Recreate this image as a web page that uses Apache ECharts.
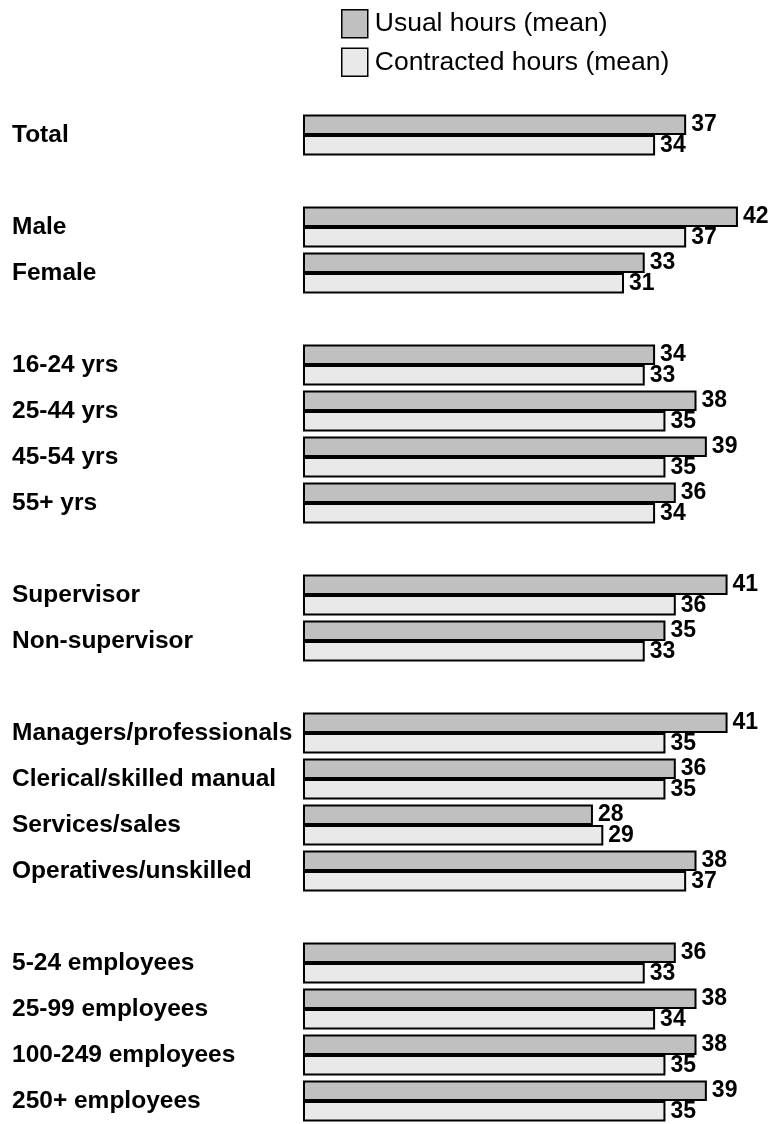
<!DOCTYPE html>
<html lang="en">

<head>
    <meta charset="UTF-8">
    <title>Usual and contracted hours</title>
    <script src="https://cdn.jsdelivr.net/npm/echarts@6/dist/echarts.min.js"></script>
</head>
<style>
    * {
        margin: 0;
        padding: 0;
    }

    body {
        background: #ffffff;
    }

    .box {
        width: 774px;
        height: 1124px;
    }
</style>

<body>
    <div class="box" id="myChart"></div>
    <script>
        // 分组：每组之间空一行
        const groupSizes = [1, 2, 4, 2, 4, 4];
        const categories = [
            'Total',
            'Male', 'Female',
            '16-24 yrs', '25-44 yrs', '45-54 yrs', '55+ yrs',
            'Supervisor', 'Non-supervisor',
            'Managers/professionals', 'Clerical/skilled manual', 'Services/sales', 'Operatives/unskilled',
            '5-24 employees', '25-99 employees', '100-249 employees', '250+ employees'
        ];
        const usualHours = [37, 42, 33, 34, 38, 39, 36, 41, 35, 41, 36, 28, 38, 36, 38, 38, 39];
        const contractedHours = [34, 37, 31, 33, 35, 35, 34, 36, 33, 35, 35, 29, 37, 33, 34, 35, 35];
        const seriesNames = ['Usual hours (mean)', 'Contracted hours (mean)'];

        // 插入空行
        let rowNames = [], usualRows = [], contractedRows = [];
        let k = 0;
        groupSizes.forEach(function (n, g) {
            if (g > 0) {
                rowNames.push('');
                usualRows.push('-');
                contractedRows.push('-');
            }
            for (let i = 0; i < n; i++) {
                rowNames.push(categories[k]);
                usualRows.push(usualHours[k]);
                contractedRows.push(contractedHours[k]);
                k++;
            }
        });

        let myEchart = echarts.init(document.getElementById('myChart'));
        const labelStyle = {
            show: true,
            position: 'right',
            distance: 5,
            color: '#000000',
            fontFamily: 'Liberation Sans',
            fontWeight: 'bold',
            fontSize: 23
        };
        const option = {
            backgroundColor: '#ffffff',
            animation: false,
            legend: {
                orient: 'vertical',
                left: 336,
                top: 4,
                itemWidth: 26,
                itemHeight: 28,
                itemGap: 9,
                icon: 'rect',
                itemStyle: {
                    borderColor: '#000000',
                    borderWidth: 1.5
                },
                textStyle: {
                    color: '#000000',
                    fontFamily: 'Liberation Sans',
                    fontSize: 26.5,
                    padding: [0, 0, 0, 2]
                },
                data: seriesNames
            },
            grid: {
                left: 303,
                right: 5,
                top: 112,
                height: 1013
            },
            xAxis: {
                type: 'value',
                min: 0,
                max: 45,
                show: false
            },
            yAxis: {
                type: 'category',
                inverse: true,
                axisLine: { show: false },
                axisTick: { show: false },
                axisLabel: {
                    align: 'left',
                    margin: 291,
                    interval: 0,
                    color: '#000000',
                    fontFamily: 'Liberation Sans',
                    fontWeight: 'bold',
                    fontSize: 24.5,
                    padding: [8, 0, 0, 0]
                },
                data: rowNames
            },
            series: [{
                    name: seriesNames[0],
                    type: 'bar',
                    barWidth: 20.5,
                    barGap: '0%',
                    itemStyle: {
                        color: '#c0c0c0',
                        borderColor: '#000000',
                        borderWidth: 2
                    },
                    label: labelStyle,
                    data: usualRows
                },
                {
                    name: seriesNames[1],
                    type: 'bar',
                    barWidth: 20.5,
                    itemStyle: {
                        color: '#e9e9e9',
                        borderColor: '#000000',
                        borderWidth: 2
                    },
                    label: labelStyle,
                    data: contractedRows
                }
            ]
        };
        myEchart.setOption(option, true);
    </script>
</body>

</html>
